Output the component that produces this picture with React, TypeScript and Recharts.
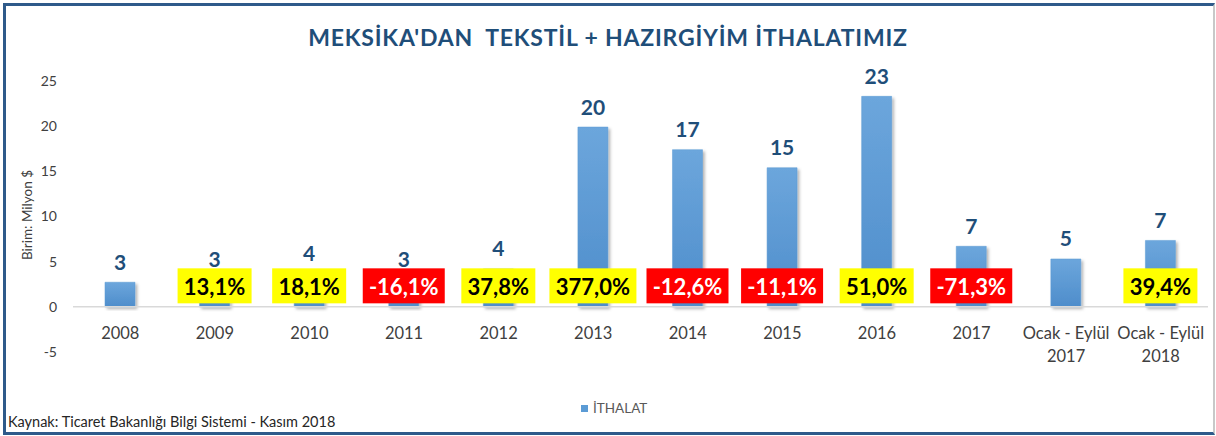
import { BarChart, Bar, XAxis, YAxis, ReferenceLine, LabelList } from "recharts";

// ── Data ─────────────────────────────────────────────────────────────────────

const CATEGORIES = [
  "2008", "2009", "2010", "2011", "2012", "2013",
  "2014", "2015", "2016", "2017", "Ocak - Eylül\n2017", "Ocak - Eylül\n2018",
];
const ITHALAT = [2.72, 3.08, 3.64, 3.05, 4.2, 19.9, 17.4, 15.4, 23.3, 6.7, 5.3, 7.35];
const VALUE_LABELS = ["3", "3", "4", "3", "4", "20", "17", "15", "23", "7", "5", "7"];
const CHANGE_LABELS = [
  "", "13,1%", "18,1%", "-16,1%", "37,8%", "377,0%",
  "-12,6%", "-11,1%", "51,0%", "-71,3%", "", "39,4%",
];
const Y_TICKS = [-5, 0, 5, 10, 15, 20, 25];

const FONT = "Lato, 'Open Sans', sans-serif";
const DARK_BLUE = "#1F4E79";
const BAR_BLUE = "#5B9BD5";

const data = CATEGORIES.map((c, i) => ({
  name: c,
  value: ITHALAT[i],
  label: VALUE_LABELS[i],
  change: CHANGE_LABELS[i],
}));

// ── Custom bits ──────────────────────────────────────────────────────────────

function XTick({ x, y, payload }: any) {
  const lines = String(payload.value).split("\n");
  return (
    <text x={x} y={y - 13} textAnchor="middle" fill="#404040"
      style={{ fontFamily: FONT, fontSize: 16.5 }}>
      {lines.map((l, i) => (
        <tspan key={i} x={x} dy={i === 0 ? 0 : 23}>{l}</tspan>
      ))}
    </text>
  );
}

function ValueLabel({ x, y, width, index }: any) {
  return (
    <text x={x + width / 2} y={y - 21} textAnchor="middle" dominantBaseline="central"
      fill={DARK_BLUE} style={{ fontFamily: FONT, fontSize: 21, fontWeight: 700 }}>
      {VALUE_LABELS[index]}
    </text>
  );
}

function ChangeBox({ x, y, width, height, index }: any) {
  const txt = CHANGE_LABELS[index];
  if (!txt) return null;
  const neg = txt.startsWith("-");
  const digits = txt.replace(/[^0-9]/g, "").length;
  const w = 35 + 13 * digits + (neg ? 8 : 0);
  const h = 35;
  const cx = x + width / 2;
  const cy = y + height - 21; // bar bottom = zero line
  return (
    <g>
      <rect x={cx - w / 2} y={cy - h / 2} width={w} height={h} fill={neg ? "#FF0000" : "#FFFF00"} />
      <text x={cx} y={cy + 1} textAnchor="middle" dominantBaseline="central"
        fill={neg ? "#FFFFFF" : "#000000"}
        style={{ fontFamily: FONT, fontSize: 22, fontWeight: 700 }}>
        {txt}
      </text>
    </g>
  );
}

// ── Chart ────────────────────────────────────────────────────────────────────

export default function App() {
  return (
    <div style={{ position: "absolute", left: 0, top: 0, width: 1216, height: 436, background: "#fff", fontFamily: FONT }}>
      <div style={{
        position: "absolute", left: 3, top: 3, width: 1212, height: 432, boxSizing: "border-box",
        borderLeft: "3px solid #2E5A8A", borderTop: "3px solid #2E5A8A",
        borderBottom: "3px solid #2E5A8A", borderRight: "2px solid #C8C8C8",
      }} />

      <div style={{
        position: "absolute", left: 0, width: 1216, top: 23, textAlign: "center",
        fontSize: 23, fontWeight: 700, color: DARK_BLUE, whiteSpace: "pre", letterSpacing: 0.8,
      }}>
        {"MEKSİKA'DAN  TEKSTİL + HAZIRGİYİM İTHALATIMIZ"}
      </div>

      <div style={{
        position: "absolute", left: 27, top: 215, transform: "translate(-50%, -50%) rotate(-90deg)",
        fontSize: 13.5, color: "#404040", whiteSpace: "nowrap",
      }}>
        Birim: Milyon $
      </div>

      <div style={{ position: "absolute", left: 0, top: 0 }}>
        <BarChart width={1216} height={436} data={data}
          margin={{ top: 81, right: 8, left: 0, bottom: 54 }}>
          <defs>
            <linearGradient id="barGrad" x1="0" y1="0" x2="0" y2="1">
              <stop offset="0%" stopColor="#6CA6DC" />
              <stop offset="100%" stopColor="#4E8DCB" />
            </linearGradient>
            <filter id="barShadow" x="-20%" y="-5%" width="150%" height="120%">
              <feDropShadow dx="2" dy="2" stdDeviation="1.5" floodColor="#000" floodOpacity="0.3" />
            </filter>
          </defs>
          <XAxis dataKey="name" height={30} axisLine={false} tickLine={false}
            tickSize={0} tickMargin={0} interval={0} tick={<XTick />} />
          <YAxis domain={[-5, 25]} ticks={Y_TICKS} width={73} axisLine={false} tickLine={false}
            tickSize={6} tickMargin={10} interval={0}
            tick={{ fill: "#404040", fontSize: 14, fontFamily: FONT }} />
          <ReferenceLine y={0} stroke="#D9D9D9" strokeWidth={1.5} />
          <Bar dataKey="value" barSize={30} fill="url(#barGrad)" stroke={BAR_BLUE} strokeWidth={0.5}
            filter="url(#barShadow)" isAnimationActive={false}>
            <LabelList dataKey="label" content={<ValueLabel />} />
            <LabelList dataKey="change" content={<ChangeBox />} />
          </Bar>
        </BarChart>
      </div>

      <div style={{ position: "absolute", left: 581, top: 400, display: "flex", alignItems: "center", gap: 5 }}>
        <span style={{ display: "inline-block", width: 7, height: 7, background: BAR_BLUE }} />
        <span style={{ fontSize: 13.5, color: "#595959" }}>İTHALAT</span>
      </div>

      <div style={{ position: "absolute", left: 8, top: 413, fontSize: 14.5, color: "#262626", whiteSpace: "nowrap" }}>
        Kaynak: Ticaret Bakanlığı Bilgi Sistemi - Kasım 2018
      </div>
    </div>
  );
}
